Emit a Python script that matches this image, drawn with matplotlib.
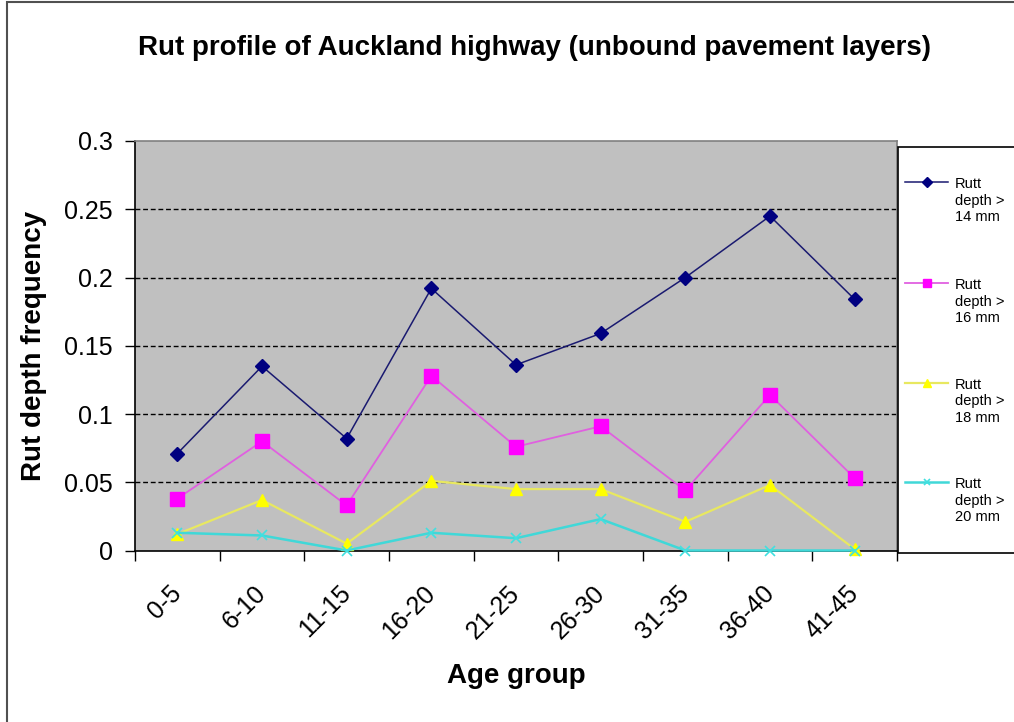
import numpy as np
import matplotlib.pyplot as plt
from matplotlib.patches import Rectangle
from matplotlib.lines import Line2D

plt.rcParams['font.family'] = ['Liberation Sans', 'DejaVu Sans']

age_groups = ['0-5', '6-10', '11-15', '16-20', '21-25', '26-30', '31-35', '36-40', '41-45']
rut_14 = [0.071, 0.135, 0.082, 0.192, 0.136, 0.159, 0.200, 0.245, 0.184]
rut_16 = [0.038, 0.080, 0.033, 0.128, 0.076, 0.091, 0.044, 0.114, 0.053]
rut_18 = [0.012, 0.037, 0.005, 0.051, 0.045, 0.045, 0.021, 0.048, 0.001]
rut_20 = [0.013, 0.011, 0.000, 0.013, 0.009, 0.023, 0.000, 0.000, 0.000]
labels = ['Rutt\ndepth >\n14 mm', 'Rutt\ndepth >\n16 mm', 'Rutt\ndepth >\n18 mm', 'Rutt\ndepth >\n20 mm']

W, H = 1014, 722
fig = plt.figure(figsize=(W / 100, H / 100), dpi=100)
fig.patch.set_facecolor('white')

# outer chart frame (runs off the right/bottom edge)
fig.patches.append(Rectangle((7 / W, -0.1), 1.2, 1 - 2 / H + 0.1, transform=fig.transFigure,
                             fill=False, edgecolor='#505050', linewidth=1.5))

ax = fig.add_axes([135 / W, 1 - 550.5 / H, (897 - 135) / W, (550.5 - 141) / H])
ax.set_facecolor('#c0c0c0')

styles = [
    dict(color='#1a1a70', lw=1.1, marker='D', ms=7, mfc='#000080', mec='#000080'),
    dict(color='#e060e0', lw=1.3, marker='s', ms=10, mfc='#ff00ff', mec='#ff00ff'),
    dict(color='#e8e860', lw=1.6, marker='^', ms=9, mfc='#ffff00', mec='#ffff00'),
    dict(color='#40d8d8', lw=1.8, marker='x', ms=7, mew=1.2, mec='#40e0e0'),
]
legend_ms = [5, 6, 6, 5]

x = np.arange(len(age_groups))
for series, st in zip([rut_14, rut_16, rut_18, rut_20], styles):
    ax.plot(x, series, clip_on=False, zorder=5, **st)

ax.set_xlim(-0.5, len(age_groups) - 0.5)
ax.set_ylim(0, 0.3)

yt = [0, 0.05, 0.1, 0.15, 0.2, 0.25, 0.3]
ax.set_yticks(yt)
ax.set_yticklabels(['0', '0.05', '0.1', '0.15', '0.2', '0.25', '0.3'])
for v in yt[1:-1]:
    ax.axhline(v, color='black', lw=1.0, ls=(0, (3.5, 2)), zorder=1)

# tick marks sit on the category boundaries, labels on the centres
ax.set_xticks(np.arange(len(age_groups) + 1) - 0.5)
ax.set_xticklabels([])
ax.set_xticks(x, minor=True)
ax.set_xticklabels(age_groups, minor=True, rotation=45, ha='right', va='center',
                   rotation_mode='anchor', fontsize=18)
ax.tick_params(axis='x', which='major', direction='out', length=7, width=1, color='black')
ax.tick_params(axis='x', which='minor', length=0, pad=28)
ax.tick_params(axis='y', direction='out', length=7, width=1, labelsize=18, pad=9)

for s in ['top', 'right']:
    ax.spines[s].set_color('#808080')
    ax.spines[s].set_linewidth(1.2)
for s in ['left', 'bottom']:
    ax.spines[s].set_color('black')
    ax.spines[s].set_linewidth(1.2)

ax.set_ylabel('Rut depth frequency', fontsize=20, fontweight='bold')
ax.yaxis.set_label_coords(-0.116, 0.5)
ax.set_xlabel('Age group', fontsize=20, fontweight='bold')
ax.xaxis.set_label_coords(0.5, -0.306)
ax.xaxis.label.set_va('center')

fig.text(534 / W, 1 - 48 / H, 'Rut profile of Auckland highway (unbound pavement layers)',
         ha='center', va='center', fontsize=20, fontweight='bold')

# legend box to the right of the plot, handle level with the first label line
fig.patches.append(Rectangle((898 / W, 1 - 553 / H), 0.2, (553 - 147) / H, transform=fig.transFigure,
                             facecolor='white', edgecolor='black', linewidth=1.2, zorder=0))
entry_y = [182, 283, 383, 482]
for ey, lab, st, lms in zip(entry_y, labels, styles, legend_ms):
    yy = 1 - ey / H
    fig.add_artist(Line2D([905 / W, 948 / W], [yy, yy], transform=fig.transFigure,
                          markevery=[], **{k: v for k, v in st.items() if k not in ('ms',)}))
    fig.add_artist(Line2D([926.5 / W], [yy], transform=fig.transFigure, ls='none',
                          marker=st['marker'], ms=lms, mfc=st.get('mfc', 'none'), mec=st['mec'],
                          mew=st.get('mew', 1)))
    fig.text(955 / W, 1 - (ey + 18.5) / H, lab, ha='left', va='center', fontsize=10.5,
             linespacing=1.25)

fig.savefig('out.png', dpi=100)
